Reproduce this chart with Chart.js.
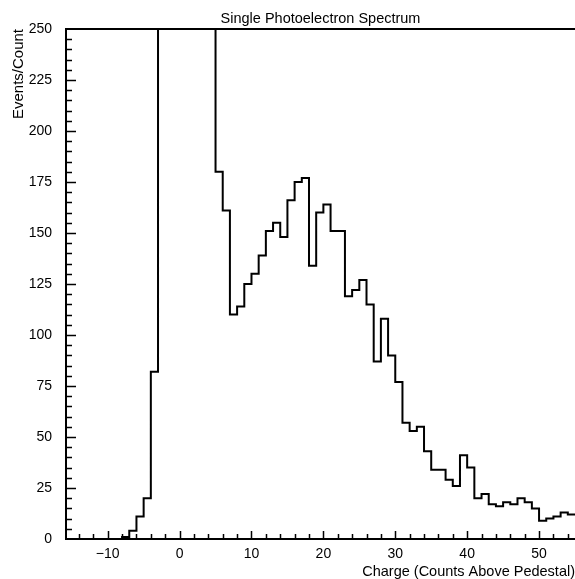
<!DOCTYPE html>
<html>
<head>
<meta charset="utf-8">
<script src="https://cdn.jsdelivr.net/npm/chart.js@4.4.1/dist/chart.umd.min.js"></script>
<style>
  html, body { margin: 0; padding: 0; background: #fff; }
  #wrap { width: 575px; height: 579px; }
</style>
</head>
<body>
<div id="wrap"><canvas id="spectrum"></canvas></div>
<script>
// low edge of each 1-count bin, plus the closing edge at 55
var binEdges = [-16, -15, -14, -13, -12, -11, -10, -9, -8, -7, -6, -5, -4, -3, -2, -1,
  0, 1, 2, 3, 4, 5, 6, 7, 8, 9, 10, 11, 12, 13, 14, 15, 16, 17, 18, 19,
  20, 21, 22, 23, 24, 25, 26, 27, 28, 29, 30, 31, 32, 33, 34, 35, 36, 37, 38, 39,
  40, 41, 42, 43, 44, 45, 46, 47, 48, 49, 50, 51, 52, 53, 54, 55];

// events per bin (pedestal bins -3..4 run off the top of the plot)
var events = [0, 0, 0, 0, 0, 0, 0, 0, 1, 4, 11, 20, 82, 420, 1500, 2900,
  3300, 2400, 1200, 560, 300, 180, 161, 110, 114, 125, 130, 139, 151, 155, 148, 166, 175, 177, 134, 160,
  164, 151, 151, 119, 122, 127, 115, 87, 108, 90, 77, 57, 53, 55, 43, 34, 34, 29, 26, 41,
  35, 20, 22, 17, 16, 18, 17, 20, 18, 15, 9, 10, 11, 13, 12];

var xMin = -15.8, xMax = 55;
var yMin = 0, yMax = 250;

var titleText = 'Single Photoelectron Spectrum';
var xTitle = 'Charge (Counts Above Pedestal)';
var yTitle = 'Events/Count';

var points = [];
for (var i = 0; i < binEdges.length; i++) {
  var v = i < events.length ? events[i] : events[events.length - 1];
  points.push({x: binEdges[i], y: v});
}

var fontFamily = '"Liberation Sans", Arial, Helvetica, sans-serif';

// ticks drawn inward like the paw/hbook style plot
var inwardTicks = {
  id: 'inwardTicks',
  afterDraw: function(chart) {
    var ctx = chart.ctx;
    var area = chart.chartArea;
    var xs = chart.scales.x, ys = chart.scales.y;
    ctx.save();
    ctx.strokeStyle = '#000';
    ctx.lineWidth = 1.5;
    ctx.beginPath();
    for (var v = -14; v <= 54; v += 2) {
      var px = Math.round(xs.getPixelForValue(v)) + 0.5;
      var len = (v % 10 === 0) ? 8 : 5;
      ctx.moveTo(px, area.bottom);
      ctx.lineTo(px, area.bottom - len);
    }
    for (var w = 5; w < 250; w += 5) {
      var py = Math.round(ys.getPixelForValue(w)) + 0.5;
      var l2 = (w % 25 === 0) ? 10 : 6;
      ctx.moveTo(area.left, py);
      ctx.lineTo(area.left + l2, py);
    }
    ctx.stroke();
    ctx.restore();
  }
};

var ctx = document.getElementById('spectrum').getContext('2d');
var chart = new Chart(ctx, {
  type: 'line',
  data: {
    datasets: [{
      label: 'Events',
      data: points,
      stepped: true,
      borderColor: '#000',
      borderWidth: 2,
      pointRadius: 0,
      fill: false
    }]
  },
  options: {
    responsive: true,
    maintainAspectRatio: false,
    animation: false,
    layout: { padding: 0 },
    plugins: {
      legend: { display: false },
      tooltip: { enabled: false }
    },
    scales: {
      x: {
        type: 'linear',
        position: 'bottom',
        min: xMin,
        max: xMax,
        afterFit: function(scale) { scale.height = 40; },
        grid: { display: false, drawTicks: false },
        border: { display: true, color: '#000', width: 2 },
        ticks: {
          stepSize: 10,
          includeBounds: false,
          padding: 7,
          color: '#000',
          font: { family: fontFamily, size: 14 },
          callback: function(v) { return v < 0 ? '\u2212' + Math.abs(v) : '' + v; }
        },
        title: {
          display: true,
          text: xTitle,
          align: 'end',
          color: '#000',
          font: { family: fontFamily, size: 14.5 },
          padding: { top: 0, bottom: -2 }
        }
      },
      x2: {
        type: 'linear',
        position: 'top',
        min: xMin,
        max: xMax,
        afterFit: function(scale) { scale.height = 29; },
        grid: { display: false, drawTicks: false },
        border: { display: true, color: '#000', width: 2 },
        ticks: { display: false },
        title: {
          display: true,
          text: titleText,
          color: '#000',
          font: { family: fontFamily, size: 14.5 },
          padding: { top: 10, bottom: 2 }
        }
      },
      y: {
        type: 'linear',
        min: yMin,
        max: yMax,
        afterFit: function(scale) { scale.width = 66; },
        grid: { display: false, drawTicks: false },
        border: { display: true, color: '#000', width: 2 },
        ticks: {
          stepSize: 25,
          padding: 14,
          color: '#000',
          font: { family: fontFamily, size: 14 }
        },
        title: {
          display: true,
          text: yTitle,
          align: 'end',
          color: '#000',
          font: { family: fontFamily, size: 15 },
          padding: { top: 10, bottom: 0 }
        }
      }
    }
  },
  plugins: [inwardTicks]
});
</script>
</body>
</html>
